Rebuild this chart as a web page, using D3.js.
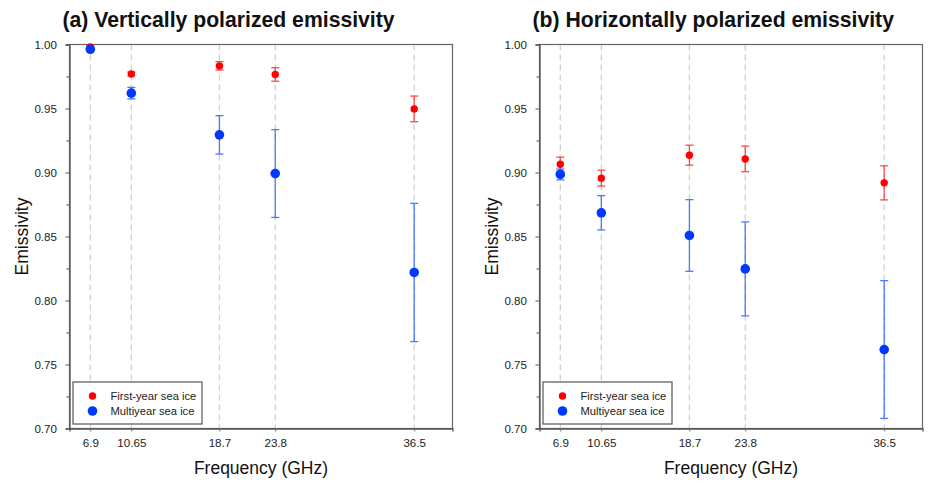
<!DOCTYPE html>
<html>
<head>
<meta charset="utf-8">
<script src="https://cdn.jsdelivr.net/npm/d3@7"></script>
<style>
  body { margin: 0; background: #fff; }
  svg { font-family: "Liberation Sans", Arial, sans-serif; }
</style>
</head>
<body>
<div id="chart"></div>
<script>
// frequencies (GHz)
const frequencies = [6.9, 10.65, 18.7, 23.8, 36.5];
const freqLabels = ["6.9", "10.65", "18.7", "23.8", "36.5"];

// (a) vertical polarization
const vFirstYear = [0.998, 0.977, 0.9833, 0.9766, 0.9497];
const vFirstYearErr = [0.001, 0.0015, 0.0033, 0.0053, 0.010];
const vMultiYear = [0.9963, 0.962, 0.9294, 0.8992, 0.8219];
const vMultiYearErr = [0.001, 0.0045, 0.015, 0.0343, 0.054];

// (b) horizontal polarization
const hFirstYear = [0.9065, 0.8956, 0.9135, 0.9106, 0.8919];
const hFirstYearErr = [0.0055, 0.0062, 0.0078, 0.010, 0.0133];
const hMultiYear = [0.8985, 0.8685, 0.8508, 0.8247, 0.7617];
const hMultiYearErr = [0.0042, 0.0134, 0.028, 0.0367, 0.0538];

const yTicks = [0.70, 0.75, 0.80, 0.85, 0.90, 0.95, 1.00];
const yMinorTicks = [0.725, 0.775, 0.825, 0.875, 0.925, 0.975];
const legendLabels = ["First-year sea ice", "Multiyear sea ice"];

const svgWidth = 929;
const svgHeight = 481;
const plotWidth = 383;
const plotHeight = 384;

const svg = d3.select("#chart")
    .append("svg")
    .attr("width", svgWidth)
    .attr("height", svgHeight);

let xScale = d3.scaleLinear().domain([5, 40]).range([0, plotWidth]);
let yScale = d3.scaleLinear().domain([0.70, 1.00]).range([plotHeight, 0]);

function drawPanel(left, top, title, firstYear, firstErr, multi, multiErr) {
    let g = svg.append("g")
        .attr("transform", `translate(${left}, ${top})`);

    // title
    svg.append("text")
        .attr("x", left - 7)
        .attr("y", 27)
        .attr("font-size", "21.2px")
        .attr("font-weight", "bold")
        .attr("fill", "#111")
        .text(title);

    // dashed vertical grid at each frequency
    g.selectAll(".grid")
        .data(frequencies)
        .enter()
        .append("line")
        .attr("x1", d => xScale(d))
        .attr("x2", d => xScale(d))
        .attr("y1", 0)
        .attr("y2", plotHeight + 3)
        .attr("stroke", "#d0d0d0")
        .attr("stroke-width", 1.3)
        .attr("stroke-dasharray", "6,4");

    // frame (top and right)
    g.append("rect")
        .attr("x", 0)
        .attr("y", 0)
        .attr("width", plotWidth)
        .attr("height", plotHeight)
        .attr("fill", "none")
        .attr("stroke", "#666")
        .attr("stroke-width", 1.2);

    // y axis
    let yAxis = d3.axisLeft(yScale)
        .tickValues(yTicks)
        .tickFormat(d3.format(".2f"))
        .tickSize(4)
        .tickPadding(8.5);
    let ya = g.append("g").call(yAxis);
    ya.select(".domain").attr("stroke", "#555").attr("stroke-width", 1.3);
    ya.selectAll(".tick line").attr("stroke", "#555");
    ya.selectAll(".tick text")
        .attr("font-size", "11.6px")
        .attr("fill", "#222")
        .attr("font-family", "Liberation Sans, Arial, sans-serif");

    let yMinor = d3.axisLeft(yScale)
        .tickValues(yMinorTicks)
        .tickFormat("")
        .tickSize(3);
    let ym = g.append("g").call(yMinor);
    ym.select(".domain").remove();
    ym.selectAll(".tick line").attr("stroke", "#555");

    // x axis
    let xAxis = d3.axisBottom(xScale)
        .tickValues(frequencies)
        .tickFormat((d, i) => freqLabels[i])
        .tickSize(3)
        .tickPadding(7);
    let xa = g.append("g")
        .attr("transform", `translate(0, ${plotHeight})`)
        .call(xAxis);
    xa.select(".domain").attr("stroke", "#555").attr("stroke-width", 1.3);
    xa.selectAll(".tick line").attr("stroke", "#777");
    xa.selectAll(".tick text")
        .attr("font-size", "11.6px")
        .attr("fill", "#222")
        .attr("font-family", "Liberation Sans, Arial, sans-serif");

    // axis titles
    g.append("text")
        .attr("transform", `translate(${-42}, ${plotHeight / 2}) rotate(-90)`)
        .attr("text-anchor", "middle")
        .attr("font-size", "17.5px")
        .attr("fill", "#111")
        .text("Emissivity");

    g.append("text")
        .attr("x", plotWidth / 2)
        .attr("y", plotHeight + 45)
        .attr("text-anchor", "middle")
        .attr("font-size", "17.5px")
        .attr("fill", "#111")
        .text("Frequency (GHz)");

    // error bars + points
    let series = [
        {vals: firstYear, err: firstErr, color: "#ff0000", bar: "#ff4a4a", r: 3.7},
        {vals: multi, err: multiErr, color: "#0038ff", bar: "#4a78ff", r: 4.8}
    ];

    series.forEach(function(s) {
        let pts = frequencies.map((f, i) => ({f: f, v: s.vals[i], e: s.err[i]}));
        let eb = g.append("g");
        eb.selectAll(".stem")
            .data(pts)
            .enter()
            .append("line")
            .attr("x1", d => xScale(d.f))
            .attr("x2", d => xScale(d.f))
            .attr("y1", d => yScale(d.v + d.e))
            .attr("y2", d => yScale(d.v - d.e))
            .attr("stroke", s.bar)
            .attr("stroke-width", 1.3);
        [1, -1].forEach(function(sign) {
            eb.selectAll(".cap" + sign)
                .data(pts)
                .enter()
                .append("line")
                .attr("x1", d => xScale(d.f) - 4)
                .attr("x2", d => xScale(d.f) + 4)
                .attr("y1", d => yScale(d.v + sign * d.e))
                .attr("y2", d => yScale(d.v + sign * d.e))
                .attr("stroke", s.bar)
                .attr("stroke-width", 1.3);
        });
        g.append("g").selectAll("circle")
            .data(pts)
            .enter()
            .append("circle")
            .attr("cx", d => xScale(d.f))
            .attr("cy", d => yScale(d.v))
            .attr("r", s.r)
            .attr("fill", s.color);
    });

    // legend
    let lg = g.append("g").attr("transform", "translate(3.5, 337.5)");
    lg.append("rect")
        .attr("width", 129)
        .attr("height", 42)
        .attr("fill", "#fff")
        .attr("stroke", "#555")
        .attr("stroke-width", 1.2);
    series.forEach(function(s, i) {
        lg.append("circle")
            .attr("cx", 19.5)
            .attr("cy", 14 + i * 15)
            .attr("r", s.r)
            .attr("fill", s.color);
        lg.append("text")
            .attr("x", 37.5)
            .attr("y", 18 + i * 14.5)
            .attr("font-size", "11.2px")
            .attr("fill", "#222")
            .text(legendLabels[i]);
    });
}

drawPanel(69.5, 44.5, "(a) Vertically polarized emissivity",
    vFirstYear, vFirstYearErr, vMultiYear, vMultiYearErr);
drawPanel(539.5, 44.5, "(b) Horizontally polarized emissivity",
    hFirstYear, hFirstYearErr, hMultiYear, hMultiYearErr);
</script>
</body>
</html>
